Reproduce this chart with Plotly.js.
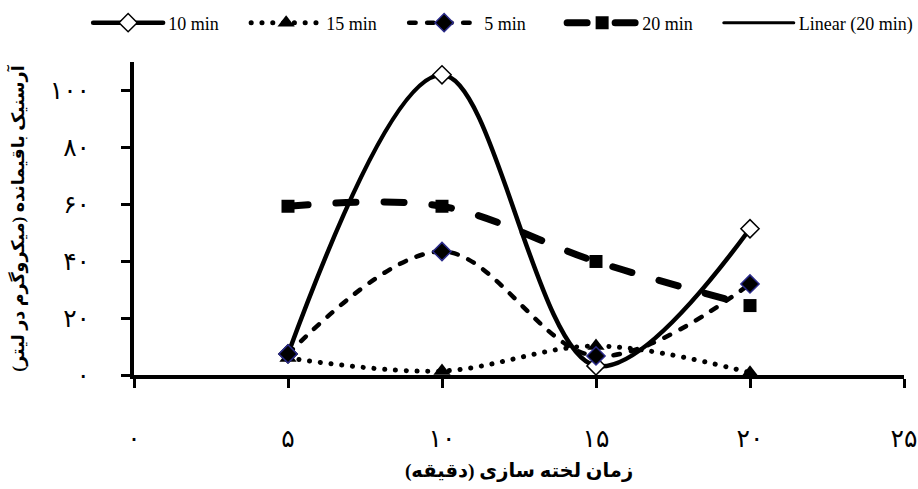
<!DOCTYPE html>
<html><head><meta charset="utf-8">
<script src="https://cdn.plot.ly/plotly-3.0.1.min.js"></script>
<style>
body{margin:0;background:#fff}
#chart{width:918px;height:489px}
.scatterlayer .js-line, .legendlines path {stroke-linecap: round;}
</style></head>
<body><div id="chart"></div>
<script>
const times = [5, 10, 15, 20];
const series10 = [7.4, 105.5, 3.2, 51.4];
const series15 = [6, 1.4, 10.2, 0.8];
const series5 = [7.4, 43.4, 6.7, 32];
const series20 = [59.3, 59.3, 39.9, 24.4];
const trendX = [null];
const trendY = [null];
const seriesNames = ['10 min', '15 min', '5 min', '20 min', 'Linear (20 min)'];
const xTickVals = [0, 5, 10, 15, 20, 25];
const xTickText = ['۰', '۵', '۱۰', '۱۵', '۲۰', '۲۵'];
const yTickVals = [0, 20, 40, 60, 80, 100];
const yTickText = ['۰', '۲۰', '۴۰', '۶۰', '۸۰', '۱۰۰'];
const xTitle = '\u200Fزمان لخته سازی (دقیقه)\u200F';
const yTitle = '\u200Fآرسنیک باقیمانده (میکروگرم در لیتر)\u200F';

const persianFont = 'Liberation Serif, "DejaVu Sans", "Noto Sans", sans-serif';
const legendFont = {family: 'Liberation Serif, serif', size: 18, color: '#000'};

const traces = [
  {x: times, y: series10, name: seriesNames[0], mode: 'lines+markers',
   line: {color: '#000', width: 4.5, shape: 'spline', smoothing: 1},
   marker: {symbol: 'diamond', size: 14, color: '#fff', line: {color: '#000', width: 1.5}}},
  {x: times, y: series15, name: seriesNames[1], mode: 'lines+markers',
   line: {color: '#000', width: 5, shape: 'spline', smoothing: 1, dash: '0.1px,10.7px'},
   marker: {symbol: 'triangle-up', size: 15, color: '#000'}},
  {x: times, y: series5, name: seriesNames[2], mode: 'lines+markers',
   line: {color: '#000', width: 4.5, shape: 'spline', smoothing: 1, dash: '6.5px,11.5px'},
   marker: {symbol: 'diamond', size: 14, color: '#000', line: {color: '#2a2a8a', width: 1.5}}},
  {x: times, y: series20, name: seriesNames[3], mode: 'lines+markers',
   line: {color: '#000', width: 7, shape: 'spline', smoothing: 1, dash: '20px,28px'},
   marker: {symbol: 'square', size: 13, color: '#000'}},
  {x: trendX, y: trendY, name: seriesNames[4], mode: 'lines', legend: 'legend2',
   line: {color: '#000', width: 3}}
];

const layout = {
  width: 918, height: 489,
  margin: {l: 134, r: 14, t: 62, b: 114},
  paper_bgcolor: '#fff', plot_bgcolor: '#fff',
  showlegend: true,
  legend: {orientation: 'h', xref: 'container', yref: 'container',
    x: 0.096, y: 0.953, xanchor: 'left', yanchor: 'middle',
    itemwidth: 70, entrywidth: 73, entrywidthmode: 'pixels',
    font: legendFont},
  legend2: {orientation: 'h', xref: 'container', yref: 'container',
    x: 0.783, y: 0.953, xanchor: 'left', yanchor: 'middle',
    itemwidth: 70, font: legendFont},
  xaxis: {range: [0, 25], tickvals: xTickVals, ticktext: xTickText,
    showline: true, linewidth: 4, linecolor: '#000', ticks: 'outside',
    ticklen: 9, tickwidth: 3, tickcolor: '#000', showgrid: false, zeroline: false,
    ticklabelstandoff: 29,
    tickfont: {family: persianFont, size: 25, color: '#000'},
    title: {text: xTitle, standoff: 13, font: {family: persianFont, size: 19.5, color: '#000', weight: 'bold'}}},
  yaxis: {range: [0, 110], tickvals: yTickVals, ticktext: yTickText,
    showline: true, linewidth: 4, linecolor: '#000', ticks: 'outside',
    ticklen: 9, tickwidth: 3, tickcolor: '#000', showgrid: false, zeroline: false,
    ticklabelstandoff: 26,
    tickfont: {family: persianFont, size: 25, color: '#000'},
    title: {text: yTitle, standoff: 22, font: {family: persianFont, size: 17.5, color: '#000', weight: 'bold'}}},
  font: {family: 'Liberation Serif, serif', color: '#000'}
};

Plotly.newPlot('chart', traces, layout, {displayModeBar: false, staticPlot: true});
</script>
</body></html>
